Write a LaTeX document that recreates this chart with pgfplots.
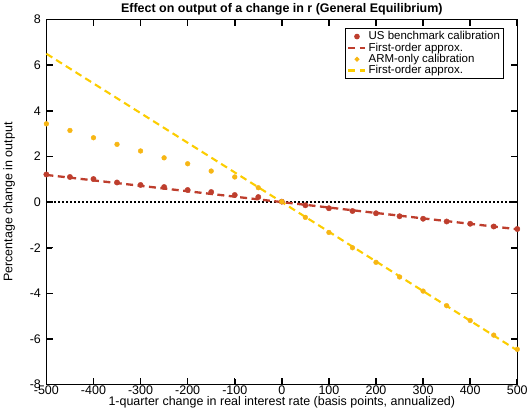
\documentclass[border=0pt]{standalone}
\usepackage{pgfplots}
\pgfplotsset{compat=1.18}
\usepackage{fontspec}
\setmainfont{Liberation Sans}
\definecolor{usred}{RGB}{190,62,45}
\definecolor{armyel}{RGB}{247,182,20}
\definecolor{armline}{RGB}{252,205,0}
\begin{document}
\begin{tikzpicture}
\begin{axis}[
  width=472pt, height=366pt, scale only axis,
  xmin=-500, xmax=500, ymin=-8, ymax=8,
  xtick={-500,-400,...,500}, ytick={-8,-6,...,8},
  tick align=inside, major tick length=6pt,
  axis line style={line width=1.5pt},
  every tick/.append style={black, line width=1.6pt},
  clip=false,
  /pgf/number format/assume math mode=true,
  tick label style={font=\fontsize{12.5}{14}\selectfont},
  label style={font=\fontsize{12.5}{14}\selectfont},
  xticklabel style={yshift=2pt},
  yticklabel style={xshift=-2pt},
  title={\bfseries Effect on output of a change in r (General Equilibrium)},
  title style={font=\fontsize{12.5}{14}\selectfont, yshift=-5pt},
  xlabel={1-quarter change in real interest rate (basis points, annualized)},
  ylabel={Percentage change in output},
  xlabel style={yshift=5pt},
  ylabel style={yshift=8pt},
  legend style={at={(0.972,0.978)}, anchor=north east, draw=black, line width=1.2pt,
    font=\fontsize{11.5}{11.5}\selectfont, row sep=-2.5pt, inner sep=1.5pt},
  legend cell align=left,
  legend image code/.code={\draw[#1] (0cm,0cm) -- (0.6cm,0cm);},
]
\addplot[forget plot, black, line width=2pt, dash pattern=on 2pt off 2pt] coordinates {(-500,0) (500,0)};

\addplot[only marks, mark=*, mark size=2.7pt, color=usred, legend image code/.code={\draw[only marks, mark=*, mark size=2.2pt, color=usred] plot coordinates {(0.3cm,0cm)};}] coordinates {
(-500,1.21) (-450,1.10) (-400,1.01) (-350,0.86) (-300,0.75) (-250,0.66) (-200,0.53) (-150,0.44) (-100,0.31) (-50,0.22) (0,0.02)
(50,-0.14) (100,-0.27) (150,-0.39) (200,-0.49) (250,-0.62) (300,-0.73) (350,-0.85) (400,-0.95) (450,-1.07) (500,-1.18)};
\addlegendentry{US benchmark calibration}

\addplot[usred, line width=2.3pt, dash pattern=on 7pt off 4.5pt] coordinates {(-500,1.19) (500,-1.19)};
\addlegendentry{First-order approx.}

\addplot[only marks, mark=*, mark size=2.4pt, color=armyel, legend image code/.code={\draw[only marks, mark=*, mark size=1.8pt, color=armyel] plot coordinates {(0.3cm,0cm)};}] coordinates {
(-500,3.43) (-450,3.14) (-400,2.82) (-350,2.53) (-300,2.24) (-250,1.94) (-200,1.68) (-150,1.36) (-100,1.10) (-50,0.63) (0,0.02)
(50,-0.67) (100,-1.33) (150,-2.00) (200,-2.64) (250,-3.28) (300,-3.90) (350,-4.54) (400,-5.19) (450,-5.83) (500,-6.45)};
\addlegendentry{ARM-only calibration}

\addplot[armline, line width=2.1pt, dash pattern=on 7pt off 4.5pt] coordinates {(-500,6.5) (500,-6.5)};
\addlegendentry{First-order approx.}

\pgfplotsinvokeforeach{-400,-300,-200,-100,0,100,200,300,400}{
  \draw[black, line width=1.5pt] (axis cs:#1,-8) -- (axis cs:#1,-7.72);
  \draw[black, line width=1.5pt] (axis cs:#1,8) -- (axis cs:#1,7.72);
}
\pgfplotsinvokeforeach{-6,-4,-2,0,2,4,6}{
  \draw[black, line width=1.5pt] (axis cs:-500,#1) -- (axis cs:-487,#1);
  \draw[black, line width=1.5pt] (axis cs:500,#1) -- (axis cs:487,#1);
}
\end{axis}
\end{tikzpicture}
\end{document}
